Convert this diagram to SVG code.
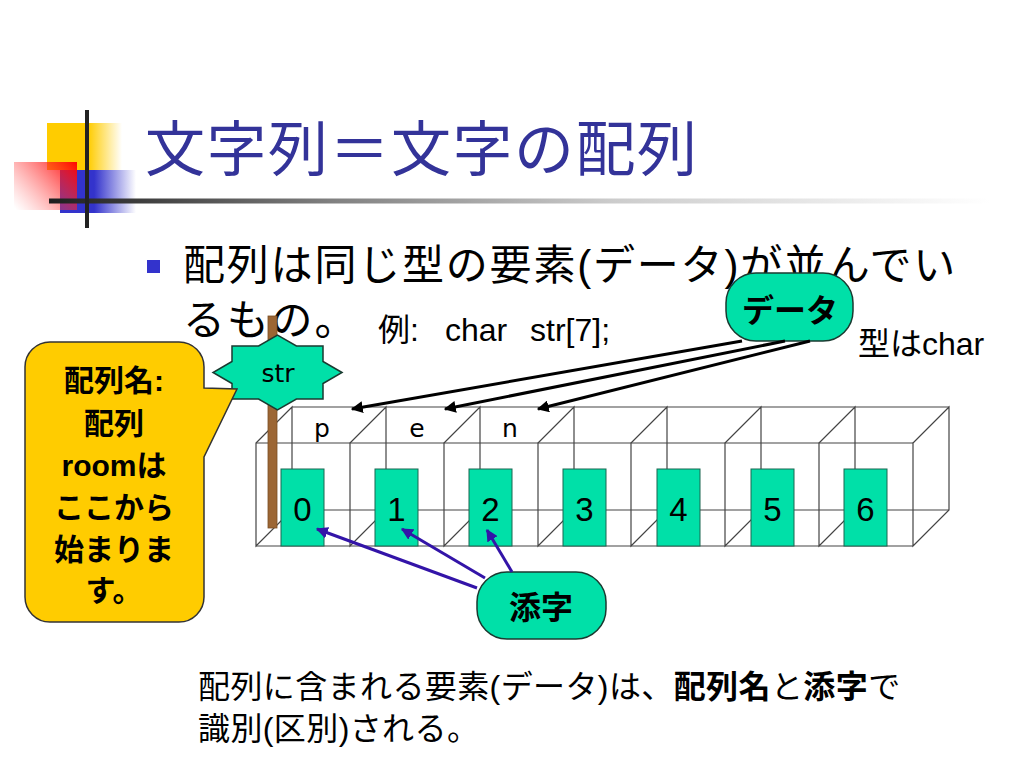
<svg xmlns="http://www.w3.org/2000/svg" width="1024" height="768" viewBox="0 0 1024 768">
<defs>
<linearGradient id="gY" gradientUnits="userSpaceOnUse" x1="47" y1="0" x2="122" y2="0"><stop offset="0" stop-color="#FFCC00"/><stop offset="0.55" stop-color="#FFCC00"/><stop offset="1" stop-color="#FFCC00" stop-opacity="0"/></linearGradient>
<linearGradient id="gB" gradientUnits="userSpaceOnUse" x1="60" y1="0" x2="136" y2="0"><stop offset="0" stop-color="#3333CC"/><stop offset="0.45" stop-color="#3333CC"/><stop offset="1" stop-color="#3333CC" stop-opacity="0"/></linearGradient>
<linearGradient id="gR" gradientUnits="userSpaceOnUse" x1="77" y1="160" x2="18" y2="212"><stop offset="0" stop-color="#FF0000"/><stop offset="1" stop-color="#FF6060" stop-opacity="0"/></linearGradient>
<linearGradient id="gL" gradientUnits="userSpaceOnUse" x1="49" y1="0" x2="990" y2="0"><stop offset="0" stop-color="#1E1E1E"/><stop offset="0.3" stop-color="#808080"/><stop offset="0.6" stop-color="#CCCCCC"/><stop offset="1" stop-color="#FFFFFF"/></linearGradient>
<marker id="ak" viewBox="0 0 10 10" refX="9" refY="5" markerWidth="4" markerHeight="4" orient="auto" markerUnits="strokeWidth"><path d="M0,0 L10,5 L0,10 Z" fill="#000"/></marker>
<marker id="ab" viewBox="0 0 10 10" refX="9" refY="5" markerWidth="4" markerHeight="4" orient="auto" markerUnits="strokeWidth"><path d="M0,0 L10,5 L0,10 Z" fill="#3314A8"/></marker>
<style>
.jp{font-family:'Liberation Sans','Noto Sans CJK JP',sans-serif;fill:#000}
.ttl{font-family:'Noto Sans CJK JP',sans-serif;font-size:60px;letter-spacing:1.5px;fill:#333399}
.b{font-weight:bold}
.grid{stroke:#444;stroke-width:1.2;fill:none}
.cell{fill:#00E0A8;stroke:#1A6650;stroke-width:1}
.num{font-family:'Liberation Sans',sans-serif;font-size:33px;text-anchor:middle;fill:#000}
.ch{font-family:'DejaVu Sans',sans-serif;font-size:25px;text-anchor:middle;fill:#000}
.bub{fill:#00E0A8;stroke:#1A3A30;stroke-width:1.5}
.ka{stroke:#000;stroke-width:3;fill:none;marker-end:url(#ak)}
.ba{stroke:#3314A8;stroke-width:3;fill:none;marker-end:url(#ab)}
</style>
</defs>
<rect width="1024" height="768" fill="#fff"/>
<g id="logo">
<rect x="47" y="123" width="75" height="47" fill="url(#gY)"/>
<rect x="60" y="170" width="76" height="43" fill="url(#gB)"/>
<rect x="14" y="162" width="63" height="48" fill="url(#gR)"/>
<rect x="49" y="198.5" width="950" height="5" fill="url(#gL)"/>
<rect x="85" y="110" width="4" height="118" fill="#222"/>
</g>
<g id="title"><text class="ttl" x="145" y="171">文字列＝文字の配列</text></g>
<g id="bullet">
<rect x="147" y="260" width="13" height="13" fill="#3333CC"/>
<text class="jp" font-size="42" letter-spacing="1.8" x="183" y="280">配列は同じ型の要素(データ)が並んでい</text>
<text class="jp" font-size="42" letter-spacing="1.8" x="183" y="335">るもの。</text>
</g>
<g id="example">
<text class="jp" font-size="32" y="341"><tspan x="378">例:</tspan><tspan x="445">char</tspan><tspan x="530">str[7];</tspan></text>
<text class="jp" font-size="32" x="858" y="355">型はchar</text>
</g>
<g id="array">
<g class="grid">
<path d="M292,407 H949 M292,510 H949 M256,443 H913 M256,546 H913"/>
<path d="M256,443 L292,407 V510 L256,546 Z"/>
<path d="M350,443 L386,407 V510 L350,546 Z"/>
<path d="M444,443 L480,407 V510 L444,546 Z"/>
<path d="M538,443 L574,407 V510 L538,546 Z"/>
<path d="M631,443 L667,407 V510 L631,546 Z"/>
<path d="M725,443 L761,407 V510 L725,546 Z"/>
<path d="M819,443 L855,407 V510 L819,546 Z"/>
<path d="M913,443 L949,407 V510 L913,546 Z"/>
</g>
<text class="ch" x="322" y="437">p</text>
<text class="ch" x="417" y="437">e</text>
<text class="ch" x="510" y="437">n</text>
<g id="c0"><rect class="cell" x="281" y="469" width="43" height="77"/><text class="num" x="302.5" y="521">0</text></g>
<g id="c1"><rect class="cell" x="375" y="469" width="43" height="77"/><text class="num" x="396.5" y="521">1</text></g>
<g id="c2"><rect class="cell" x="469" y="469" width="43" height="77"/><text class="num" x="490.5" y="521">2</text></g>
<g id="c3"><rect class="cell" x="563" y="469" width="43" height="77"/><text class="num" x="584.5" y="521">3</text></g>
<g id="c4"><rect class="cell" x="657" y="469" width="43" height="77"/><text class="num" x="678.5" y="521">4</text></g>
<g id="c5"><rect class="cell" x="751" y="469" width="43" height="77"/><text class="num" x="772.5" y="521">5</text></g>
<g id="c6"><rect class="cell" x="844" y="469" width="43" height="77"/><text class="num" x="865.5" y="521">6</text></g>
</g>
<g id="pole"><rect x="268" y="316" width="9" height="212" fill="#9C6634" stroke="#7A4E24" stroke-width="0.8"/></g>
<g id="str">
<polygon class="bub" points="342,372.5 323,361.5 323,346 296.4,346 277.5,335 258.6,346 232,346 232,361.5 213,372.5 232,383.5 232,399 258.6,399 277.5,410 296.4,399 323,399 323,383.5"/>
<text font-family="'DejaVu Sans',sans-serif" font-size="25" text-anchor="middle" x="278" y="382">str</text>
</g>
<g id="callout">
<path d="M50,342 H179 A25,25 0 0 1 204,367 V388 L237,389 L204,457 V597 A25,25 0 0 1 179,622 H50 A25,25 0 0 1 25,597 V367 A25,25 0 0 1 50,342 Z" fill="#FFCC00" stroke="#333" stroke-width="1.5"/>
<g class="jp b" font-size="30" text-anchor="middle">
<text x="114" y="391">配列名:</text>
<text x="114" y="434">配列</text>
<text x="114" y="476">roomは</text>
<text x="114" y="518">ここから</text>
<text x="114" y="560">始まりま</text>
<text x="114" y="601">す。</text>
</g>
</g>
<g id="data">
<rect class="bub" x="726" y="273" width="127" height="68" rx="30" ry="30"/>
<text class="jp b" font-size="32" text-anchor="middle" x="790" y="322">データ</text>
</g>
<g id="index">
<rect class="bub" x="477" y="572" width="129" height="67" rx="30" ry="30"/>
<text class="jp b" font-size="32" text-anchor="middle" x="541" y="619">添字</text>
</g>
<g id="connectors">
<line class="ka" x1="742" y1="341" x2="352" y2="409"/>
<line class="ka" x1="785" y1="341" x2="445" y2="409"/>
<line class="ka" x1="810" y1="341" x2="538" y2="409"/>
<line class="ba" x1="477" y1="588" x2="317" y2="529"/>
<line class="ba" x1="485" y1="578" x2="402" y2="529"/>
<line class="ba" x1="512" y1="572" x2="487" y2="530"/>
</g>
<g id="note">
<text class="jp" font-size="32" letter-spacing="0.4" x="198" y="698">配列に含まれる要素(データ)は、<tspan class="b">配列名</tspan>と<tspan class="b">添字</tspan>で</text>
<text class="jp" font-size="32" letter-spacing="0.4" x="198" y="740">識別(区別)される。</text>
</g>
</svg>
